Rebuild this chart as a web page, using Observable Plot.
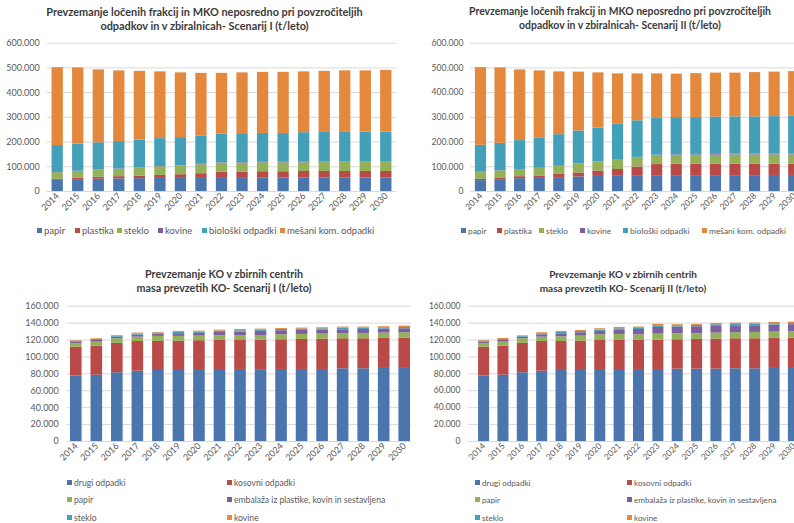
<!DOCTYPE html>
<html>
<head>
<meta charset="utf-8">
<script src="https://cdn.jsdelivr.net/npm/d3@7"></script>
<script src="https://cdn.jsdelivr.net/npm/@observablehq/plot@0.6"></script>
<style>
  body { margin: 0; background: #fff; }
  #root { position: relative; width: 794px; height: 523px; overflow: hidden; background: #fff; font-family: Lato, "Open Sans", sans-serif; }
  .panel { position: absolute; overflow: hidden; }
  .title { position: absolute; width: 400px; text-align: center; font-weight: bold; color: #3a3a3a; white-space: nowrap; }
  .leg { position: absolute; color: #595959; white-space: nowrap; line-height: 10px; }
  .leg i { display: inline-block; width: 5px; height: 5px; margin-right: 2px; vertical-align: 1px; }
  svg { position: absolute; }
</style>
</head>
<body>
<div id="root"></div>
<script>
// ---------- data (values in thousand t/leto) ----------
const years = ["2014","2015","2016","2017","2018","2019","2020","2021","2022","2023","2024","2025","2026","2027","2028","2029","2030"];

// Chart 1: Scenarij I – ločene frakcije in MKO
const s1Keys = ["papir","plastika","steklo","kovine","biološki odpadki","mešani kom. odpadki"];
const s1Papir    = [45,48,50,51,52,53,53,53,53,53,54,54,54,54,54,54,54];
const s1Plastika = [5,6,8,9,10,12,15,19,25,26,26,26,27,27,27,27,27];
const s1Steklo   = [26,27,28,30,33,35,35,36,36,36,36,36,35,37,38,38,38];
const s1Kovine   = [1,1,1,1,1,1,1,2,2,2,2,2,2,2,2,2,2];
const s1Bio      = [109,110,110,111,112,113,114,115,116,117,117,117,120,119,118,119,119];
const s1Mesani   = [315,308,295,286,278,270,262,253,246,246,247,247,246,247,249,248,250];

// Chart 2: Scenarij II – ločene frakcije in MKO
const s2Papir    = [44,48,52,53,56,59,61,64,64,64,64,64,64,64,64,65,65];
const s2Plastika = [5,7,8,10,13,16,22,25,35,45,46,46,47,47,47,46,46];
const s2Steklo   = [28,28,28,30,32,36,36,38,37,36,36,36,36,37,37,37,37];
const s2Kovine   = [1,1,1,1,1,1,1,2,2,2,2,2,3,3,3,3,3];
const s2Bio      = [109,111,117,123,128,133,137,143,148,151,151,151,151,151,151,152,153];
const s2Mesani   = [314,305,286,271,254,238,223,204,190,178,176,178,178,177,179,180,181];

// Chart 3: KO Scenarij I
const koKeys = ["drugi odpadki","kosovni odpadki","papir","embalaža iz plastike, kovin in sestavljena","steklo","kovine"];
const k1Drugi    = [77.5,78.5,81.3,83.2,84,84,84,84,85.2,85,85.2,85.2,85.2,86,86,86.4,86.4];
const k1Kosovni  = [34.1,34.3,34.7,35.1,34.3,34.7,35.2,35.5,34.3,34.9,35.1,35.5,35.9,35.5,35.5,35.5,35.9];
const k1Papir    = [4,4.7,5.5,5.1,6,5.6,5.4,5.5,5.5,5.5,5.9,5.9,5.9,5.9,5.9,6.3,6.3];
const k1Embalaza = [1.9,2,1.9,2.4,2.7,3.2,3.3,4,4.4,4.8,4.8,4.8,4.7,4.7,5.1,4.8,4.7];
const k1Steklo   = [1.2,1.2,1.2,1.2,1.2,1.5,1.5,1.5,1.6,1.5,1.5,1.5,1.6,2,1.6,1.5,1.6];
const k1Kovine   = [0.7,0.8,0.8,1.2,0.8,1.2,1.1,1.2,1.5,1.2,1.2,1.2,1.2,1.2,1.2,1.2,1.6];

// Chart 4: KO Scenarij II
const k2Drugi    = [77.5,78.5,81.3,83.2,84,84,84,84,85.2,85.2,85.6,85.6,85.6,86,86,86.4,86.4];
const k2Kosovni  = [34.1,34.3,34.7,35.1,34.3,34.7,35.5,35.5,34.3,34.7,34.7,35.1,35.5,35.5,35.5,35.5,35.9];
const k2Papir    = [4,4.7,5.5,5.1,5.5,5.9,6.7,7.1,6.7,7.1,7.1,6.7,7.1,7.1,7.5,7.5,7.5];
const k2Embalaza = [1.9,2,1.9,2.8,3.6,4,4,4.8,6.3,7.9,7.9,8.3,7.9,8.3,7.9,8.3,8.3];
const k2Steklo   = [1.2,1.2,0.8,1.2,1.6,1.6,1.5,1.9,2,2,1.6,1.6,2,1.6,1.6,1.6,1.5];
const k2Kovine   = [0.9,1.2,0.8,1.2,1.2,1.2,1.6,1.6,0.8,1.6,1.2,1.2,1.5,1.5,1.5,1.5,1.6];

const topTicks = [0,100,200,300,400,500,600];
const botTicks = [0,20,40,60,80,100,120,140,160];

const titles = [
  ["Prevzemanje ločenih frakcij in MKO neposredno pri povzročiteljih", "odpadkov in v zbiralnicah- Scenarij I (t/leto)"],
  ["Prevzemanje ločenih frakcij in MKO neposredno pri povzročiteljih", "odpadkov in v zbiralnicah- Scenarij II (t/leto)"],
  ["Prevzemanje KO v zbirnih centrih", "masa prevzetih KO- Scenarij I (t/leto)"],
  ["Prevzemanje KO v zbirnih centrih", "masa prevzetih KO- Scenarij II (t/leto)"]
];

// ---------- styling ----------
const colors = ["#4a76ad", "#b94a48", "#93b158", "#7c5f9f", "#44a0b9", "#e4883e"];

function toRows(keys, arrays) {
  const rows = [];
  keys.forEach((k, i) => years.forEach((y, j) => rows.push({year: y, series: k, value: arrays[i][j]})));
  return rows;
}
const fmt = d => d === 0 ? "0" : d + ".000";
const root = document.getElementById("root");

function makeChart(cfg) {
  const panel = document.createElement("div");
  panel.className = "panel";
  Object.assign(panel.style, {left: cfg.px + "px", top: cfg.py + "px", width: cfg.pw + "px", height: cfg.ph + "px"});
  root.appendChild(panel);

  const svg = Plot.plot({
    width: cfg.w, height: cfg.h,
    marginLeft: cfg.ml, marginRight: cfg.mr, marginTop: cfg.mt, marginBottom: cfg.mb,
    style: {background: "transparent", overflow: "visible", maxWidth: "none", fontFamily: "Lato, 'Open Sans', sans-serif", fontSize: cfg.tickFs + "px", color: "#595959"},
    x: {type: "band", domain: years, round: false, paddingInner: cfg.pi, paddingOuter: cfg.po, label: null, tickSize: 0, tickPadding: 3, tickRotate: -45},
    y: {domain: [0, cfg.ticks[cfg.ticks.length - 1]], ticks: cfg.ticks, tickFormat: fmt, label: null, tickSize: 0, tickPadding: cfg.tp},
    color: {domain: cfg.keys, range: colors},
    marks: [
      Plot.ruleY(cfg.ticks, {stroke: "#d9d9d9", strokeWidth: 1}),
      Plot.barY(cfg.rows, {x: "year", y: "value", fill: "series", order: cfg.keys})
    ]
  });
  svg.style.left = cfg.sx + "px";
  svg.style.top = cfg.sy + "px";
  panel.appendChild(svg);

  const t = document.createElement("div");
  t.className = "title";
  t.style.fontSize = cfg.titleFs + "px";
  t.style.lineHeight = cfg.titleLh + "px";
  t.style.left = (cfg.tc - 200 - cfg.px) + "px";
  t.style.top = (cfg.ty - cfg.py) + "px";
  const l1 = document.createElement("span"); l1.textContent = cfg.title[0];
  const l2 = document.createElement("span"); l2.textContent = cfg.title[1];
  t.appendChild(l1); t.appendChild(document.createElement("br")); t.appendChild(l2);
  panel.appendChild(t);

  cfg.keys.forEach((k, i) => {
    const d = document.createElement("div");
    d.className = "leg";
    d.style.fontSize = cfg.legFs + "px";
    d.style.left = (cfg.legX[i] - cfg.px) + "px";
    d.style.top = (cfg.legY[i] - 5 - cfg.py) + "px";
    const sq = document.createElement("i"); sq.style.background = colors[i];
    const sp = document.createElement("span"); sp.textContent = k;
    d.appendChild(sq); d.appendChild(sp);
    panel.appendChild(d);
  });
}

// Top-left
makeChart({ px: 0, py: 0, pw: 400, ph: 260, sx: 0, sy: 0, w: 400, h: 220, ml: 46.7, mr: 3.7, mt: 42.7, mb: 29,
  pi: 0.45, po: 0.236, tp: 7.5, ticks: topTicks, tickFs: 9, titleFs: 10.9, titleLh: 13.5, legFs: 9.5,
  keys: s1Keys, rows: toRows(s1Keys, [s1Papir, s1Plastika, s1Steklo, s1Kovine, s1Bio, s1Mesani]),
  title: titles[0], tc: 204.5, ty: 5, legX: [37, 75, 117, 158, 202, 280], legY: [231, 231, 231, 231, 231, 231] });

// Top-right
makeChart({ px: 400, py: 0, pw: 394, ph: 260, sx: 0, sy: 0, w: 410, h: 220, ml: 70, mr: 5.8, mt: 42.7, mb: 29,
  pi: 0.43, po: 0.25, tp: 7, ticks: topTicks, tickFs: 8.6, titleFs: 10.4, titleLh: 13.5, legFs: 8.4,
  keys: s1Keys, rows: toRows(s1Keys, [s2Papir, s2Plastika, s2Steklo, s2Kovine, s2Bio, s2Mesani]),
  title: titles[1], tc: 620, ty: 5, legX: [461, 497, 539, 580, 623, 702], legY: [231, 231, 231, 231, 231, 231] });

// Bottom-left
makeChart({ px: 0, py: 260, pw: 411, ph: 263, sx: 0, sy: 0, w: 420, h: 210, ml: 66.7, mr: 6.7, mt: 45.7, mb: 29,
  pi: 0.435, po: 0.16, tp: 8.4, ticks: botTicks, tickFs: 9, titleFs: 10.7, titleLh: 14, legFs: 8.6,
  keys: koKeys, rows: toRows(koKeys, [k1Drugi, k1Kosovni, k1Papir, k1Embalaza, k1Steklo, k1Kovine]),
  title: titles[2], tc: 224, ty: 267, legX: [67, 227, 67, 227, 67, 227], legY: [483, 483, 500, 500, 518, 518] });

// Bottom-right
makeChart({ px: 411, py: 260, pw: 383, ph: 263, sx: -11, sy: 0, w: 420, h: 210, ml: 68, mr: 11, mt: 45.7, mb: 29,
  pi: 0.43, po: 0.52, tp: 8, ticks: botTicks, tickFs: 8.5, titleFs: 10, titleLh: 14, legFs: 8.1,
  keys: koKeys, rows: toRows(koKeys, [k2Drugi, k2Kosovni, k2Papir, k2Embalaza, k2Steklo, k2Kovine]),
  title: titles[3], tc: 623, ty: 267, legX: [475, 627, 475, 627, 475, 627], legY: [483, 483, 500, 500, 518, 518] });
</script>
</body>
</html>
